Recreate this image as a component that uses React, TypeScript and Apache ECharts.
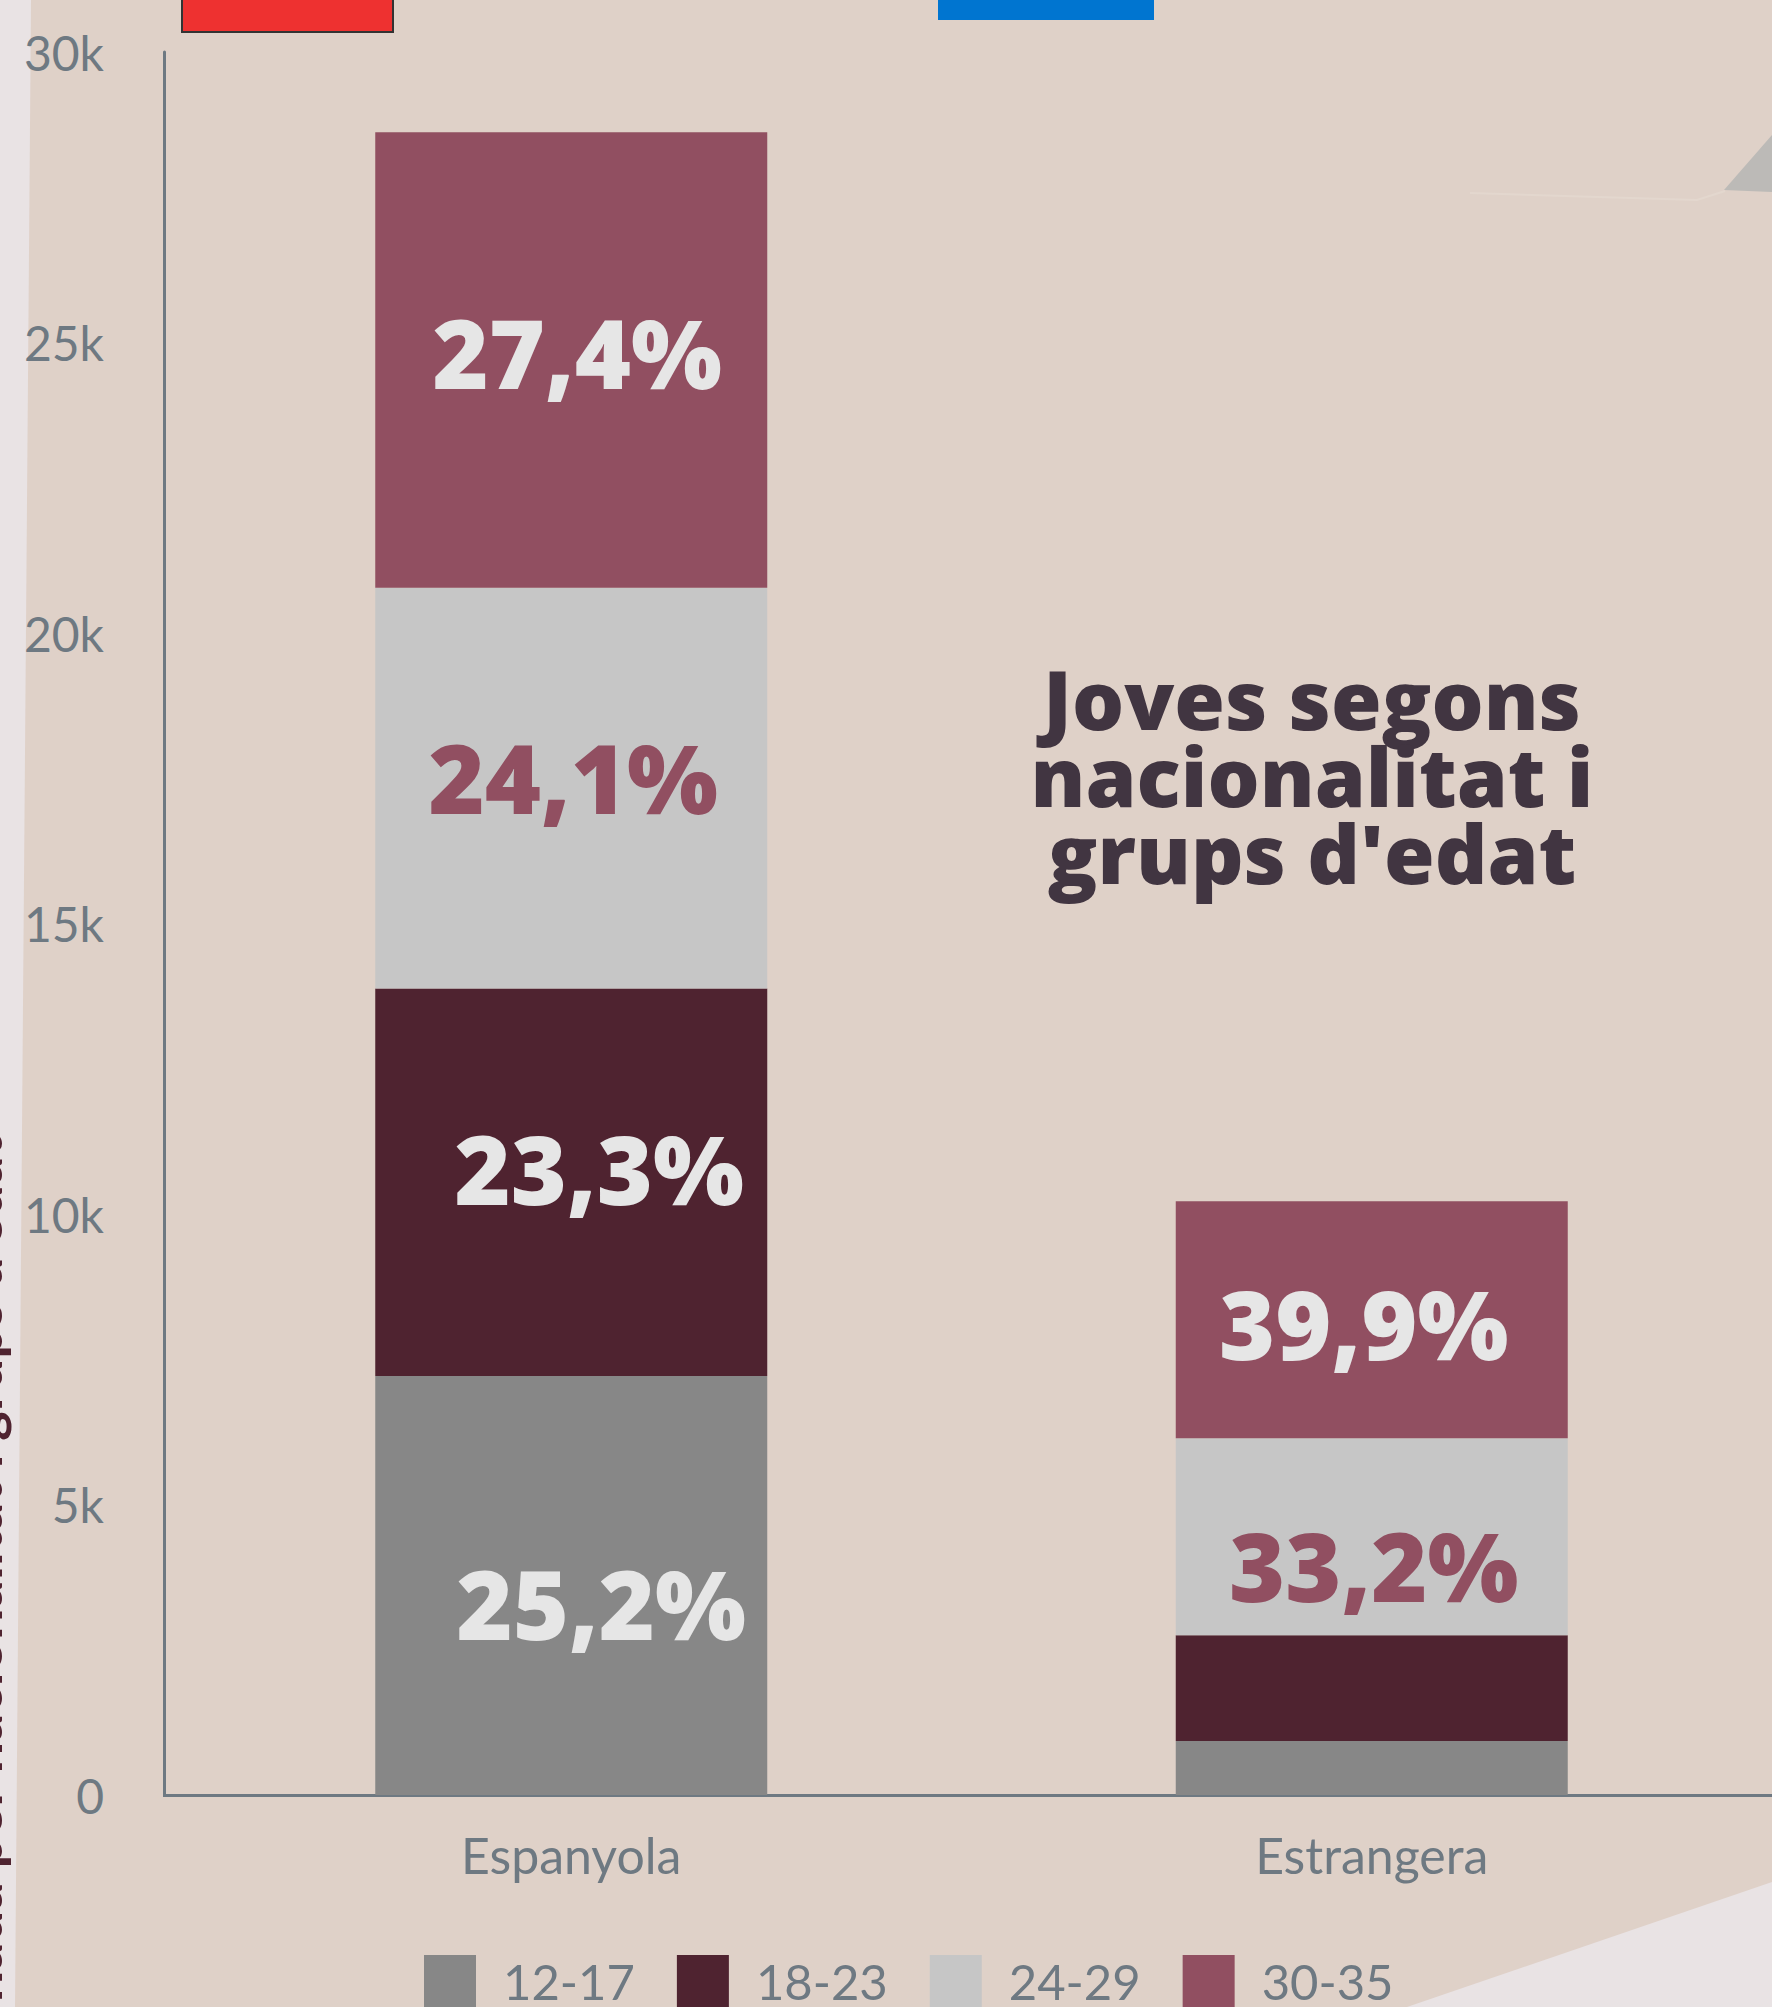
import React, { useEffect, useRef } from "react";
import * as echarts from "echarts";

const categories = ["Espanyola", "Estrangera"];
const ageGroups = ["12-17", "18-23", "24-29", "30-35"];
const espanyola = [7210, 6670, 6900, 7840];
const estrangera = [930, 1820, 3390, 4080];
const pctEspanyola = ["25,2%", "23,3%", "24,1%", "27,4%"];
const pctEstrangera = ["", "", "33,2%", "39,9%"];
const yTicks = [0, 5000, 10000, 15000, 20000, 25000, 30000];
const titleLines = ["Joves segons", "nacionalitat i", "grups d'edat"];
const sideTitle = "Població empadronada per nacionalitat i grups d'edat";

// styling
const colors = ["#878787", "#4f2330", "#c6c6c6", "#914f61"];
const labelColors = ["#e6e6e6", "#e6e6e6", "#914f61", "#e6e6e6"];
const labelOffsetsEsp = [[30, 17], [28, -15], [2, -12], [6, -8]];
const labelOffsetsEst = [[0, 0], [0, 0], [2, 28], [-8, 3]];
const axisGrey = "#6e7982";

export default function App() {
  const ref = useRef<HTMLDivElement>(null);
  useEffect(() => {
    document.body.style.margin = "0";
    const chart = echarts.init(ref.current!, undefined, { renderer: "svg" });
    const series = ageGroups.map((g, i) => ({
      name: g,
      type: "bar",
      stack: "total",
      barWidth: 392,
      z: 2,
      itemStyle: { color: colors[i] },
      label: {
        position: "inside",
        color: labelColors[i],
        fontSize: 96,
        fontWeight: 800,
        fontFamily: "Open Sans",
      },
      data: [espanyola[i], estrangera[i]].map((v, j) => {
        const pct = j === 0 ? pctEspanyola[i] : pctEstrangera[i];
        const off = j === 0 ? labelOffsetsEsp[i] : labelOffsetsEst[i];
        return { value: v, label: { show: pct !== "", formatter: pct, offset: off } };
      }),
    }));
    const titleTexts = titleLines.map((t, k) => ({
      type: "text",
      z: 10,
      x: 1312,
      y: 698 + k * 77,
      style: {
        text: t,
        fontSize: 82,
        fontWeight: 800,
        fontFamily: "Open Sans",
        fill: "#413541",
        align: "center",
        verticalAlign: "middle",
        lineHeight: 76,
      },
    }));
    chart.setOption({
      animation: false,
      backgroundColor: "#dfd1c8",
      grid: { left: 171, right: 0, top: 52, bottom: 212 },
      xAxis: {
        type: "category",
        data: categories,
        axisLine: { lineStyle: { color: axisGrey, width: 3 } },
        axisTick: { show: false },
        axisLabel: { color: axisGrey, fontSize: 50, fontFamily: "Lato", margin: 35 },
      },
      yAxis: {
        type: "value",
        offset: 7,
        min: yTicks[0],
        max: yTicks[yTicks.length - 1],
        interval: yTicks[1] - yTicks[0],
        splitLine: { show: false },
        axisTick: { show: false },
        axisLine: { show: true, lineStyle: { color: axisGrey, width: 3 } },
        axisLabel: {
          color: axisGrey,
          fontSize: 48,
          fontFamily: "Lato",
          margin: 60,
          formatter: (v: number) => (v === 0 ? "0" : v / 1000 + "k"),
        },
      },
      legend: {
        data: ageGroups,
        left: 419,
        top: 1950,
        itemWidth: 52,
        itemHeight: 52,
        itemGap: 42,
        icon: "rect",
        textStyle: { fontSize: 49, color: axisGrey, fontFamily: "Lato", padding: [0, 0, 0, 22] },
      },
      graphic: [
        { type: "polygon", z: -10, shape: { points: [[0, 0], [31, 0], [15, 2007], [0, 2007]] }, style: { fill: "#e9e3e4" } },
        { type: "polygon", z: -10, shape: { points: [[1407, 2007], [1772, 1882], [1772, 2007]] }, style: { fill: "#e9e3e4" } },
        { type: "polygon", z: -10, shape: { points: [[1724, 190], [1772, 135], [1772, 192]] }, style: { fill: "#bcbab7" } },
        { type: "polyline", z: -10, shape: { points: [[1470, 193], [1697, 200], [1725, 191]] }, style: { stroke: "#e3d7ce", lineWidth: 2, fill: null } },
        { type: "line", z: 1, shape: { x1: 163, y1: 1795.5, x2: 173, y2: 1795.5 }, style: { stroke: axisGrey, lineWidth: 3 } },
        { type: "rect", z: 5, shape: { x: 182, y: -3, width: 211, height: 35 }, style: { fill: "#ee3130", stroke: "#333333", lineWidth: 2 } },
        { type: "rect", z: 5, shape: { x: 938, y: -2, width: 216, height: 22 }, style: { fill: "#0075d0" } },
        ...titleTexts,
        {
          type: "text",
          z: 10,
          x: 8,
          y: 2450,
          rotation: Math.PI / 2,
          style: {
            text: sideTitle,
            fontSize: 56,
            fontWeight: "bold",
            fontFamily: "Lato",
            fill: "#4f2330",
            align: "left",
            verticalAlign: "bottom",
          },
        },
      ],
      series,
    });
    return () => chart.dispose();
  }, []);
  return <div ref={ref} style={{ width: 1772, height: 2007 }} />;
}
